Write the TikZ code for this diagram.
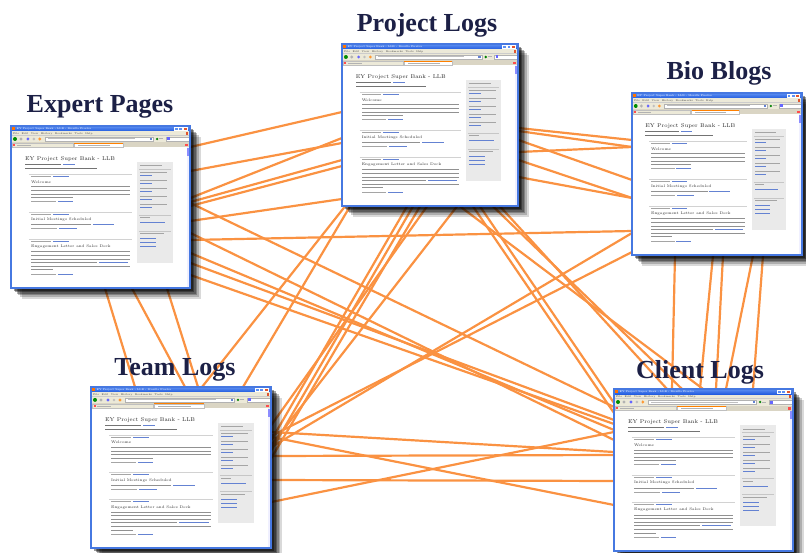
\documentclass[tikz,border=0pt]{standalone}
\usepackage{fontspec}
\newfontfamily\lblfont{Liberation Serif}
\definecolor{lineor}{RGB}{250,146,66}
\definecolor{navy}{RGB}{28,32,70}
\definecolor{tbblue}{RGB}{30,88,222}
\definecolor{tbblue2}{RGB}{95,145,242}
\definecolor{xpgray}{RGB}{236,233,216}
\definecolor{tabgray}{RGB}{218,213,196}
\definecolor{frameblue}{RGB}{70,120,225}
\definecolor{txtgray}{RGB}{165,165,165}
\definecolor{bodygray}{RGB}{145,145,145}
\definecolor{linkblue}{RGB}{100,130,210}
\definecolor{sidegray}{RGB}{234,234,234}
\definecolor{closered}{RGB}{225,85,45}
\tikzset{
  conn/.style={draw=lineor,line width=2.2pt},
  lbl/.style={anchor=base,inner sep=0,text=navy,font=\lblfont\bfseries\fontsize{26}{30}\selectfont},
  win/.style={inner sep=0,anchor=north west,draw=none},
  tiny/.style={anchor=west,inner sep=0}
}
\newcommand\tbar[4]{\fill[#4] (#1,#3-0.5) rectangle (#2,#3+0.5);}
\newcommand\bart[4]{%
\begin{scope}[shift={(#1,#2)},xscale=#3/180,yscale=#4/162]
 \foreach \k/\o in {11/0.15,9/0.2,7.5/0.25,6/0.3,4.5/0.35,3/0.4}{\fill[black,fill opacity=\o] (\k,\k) rectangle (180+\k,162+\k);}
 \fill[white] (0,0) rectangle (180,162);
 \shade[top color=tbblue2,bottom color=tbblue] (0,0) rectangle (180,5.5);
 \fill[orange!90!red] (1.2,1.2) rectangle (4,4.3);
 \node[tiny,text=white,font=\fontsize{2.6}{3}\selectfont] at (5.5,2.8) {EY Project Super Bank - LLB - Mozilla Firefox};
 \foreach \bx in {164,168.5}{\filldraw[fill=tbblue2,draw=white,line width=0.2pt] (\bx,1) rectangle ++(3.8,3.5);}
 \filldraw[fill=closered,draw=white,line width=0.2pt] (173,1) rectangle ++(3.8,3.5);
 \fill[xpgray] (0,5.5) rectangle (180,16.5);
 \node[tiny,text=black!70,font=\fontsize{2.6}{3}\selectfont] at (2,7.6) {File\ \ Edit\ \ View\ \ History\ \ Bookmarks\ \ Tools\ \ Help};
 \fill[closered] (176,6.3) rectangle (178,8.6);
 \draw[gray!40,line width=0.2pt] (0,9.5)--(180,9.5);
 \fill[green!55!black] (4,13) circle (2);
 \fill[gray!60] (10,13) circle (1.6);
 \fill[blue!60] (17,13) circle (1.6);
 \fill[gray!50] (23,13) circle (1.4);
 \fill[orange!80] (29,13) circle (1.6);
 \filldraw[fill=white,draw=gray!60,line width=0.2pt] (34,11) rectangle (143,15);
 \tbar{37}{125}{13}{gray!50}
 \fill[linkblue] (139.5,11.8) rectangle (142,14.2);
 \fill[green!50!black] (147,13) circle (1.3);
 \tbar{149}{153}{13}{gray!60}
 \filldraw[fill=white,draw=gray!60,line width=0.2pt] (156,11) rectangle (179,15);
 \fill[blue!60] (157,11.5) rectangle (160,14.5);
 \fill[tabgray] (0,16.5) rectangle (180,21.5);
 \filldraw[fill=xpgray,draw=gray!50,line width=0.2pt] (1,17) rectangle (62,21.5);
 \fill[red!70] (2.5,18.2) rectangle (4.5,20.2);
 \tbar{6}{20}{19.2}{gray!60}
 \filldraw[fill=white,draw=gray!50,line width=0.2pt] (63,16.8) rectangle (113,21.5);
 \draw[orange,line width=0.6pt] (63,16.9)--(113,16.9);
 \tbar{67}{100}{19.2}{gray!60}
 \fill[red!70] (175,18) rectangle (177.5,20.5);
 \fill[blue!6] (176.5,21.5) rectangle (179.5,161.5);
 \fill[blue!45] (176.7,22) rectangle (179.3,30);
 % main column
 \node[tiny,font=\fontsize{5.5}{6}\selectfont,text=black!85] at (14,33.5) {EY Project Super Bank - LLB};
 \tbar{14}{50}{38.8}{black!55}\tbar{52}{64}{38.8}{linkblue}
 \tbar{14}{86}{42.5}{black!55}
 \draw[gray!35,line width=0.3pt] (18,48)--(122,48);
 \tbar{20}{40}{50.5}{txtgray}\tbar{42}{58}{50.5}{linkblue}
 \node[tiny,font=\fontsize{3.8}{4}\selectfont,text=black!80] at (20,56) {Welcome};
 \foreach \yy in {61,64.6,68.2}{\tbar{20}{120}{\yy}{bodygray}}
 \tbar{20}{62}{71.8}{bodygray}
 \tbar{20}{45}{75.5}{txtgray}\tbar{47}{62}{75.5}{linkblue}
 \draw[gray!35,line width=0.3pt] (18,86)--(122,86);
 \tbar{20}{40}{88.5}{txtgray}\tbar{42}{58}{88.5}{linkblue}
 \node[tiny,font=\fontsize{3.8}{4}\selectfont,text=black!80] at (20,94) {Initial Meetings Scheduled};
 \tbar{20}{80}{99}{bodygray}\tbar{82}{104}{99}{linkblue}
 \tbar{20}{46}{103}{txtgray}\tbar{48}{66}{103}{linkblue}
 \draw[gray!35,line width=0.3pt] (18,113)--(122,113);
 \tbar{20}{40}{115.5}{txtgray}\tbar{42}{58}{115.5}{linkblue}
 \node[tiny,font=\fontsize{3.8}{4}\selectfont,text=black!80] at (20,121) {Engagement Letter and Sales Deck};
 \foreach \yy in {126,129.6,133.2}{\tbar{20}{120}{\yy}{bodygray}}
 \tbar{20}{86}{136.8}{bodygray}\tbar{88}{118}{136.8}{linkblue}
 \tbar{20}{120}{140.4}{bodygray}
 \tbar{20}{42}{144}{bodygray}
 \tbar{20}{45}{148.5}{txtgray}\tbar{47}{62}{148.5}{linkblue}
 % sidebar
 \fill[sidegray] (127,36) rectangle (163,137);
 \tbar{130}{152}{40}{txtgray}
 \draw[gray!45,line width=0.2pt] (129,43)--(161,43);
 \foreach \yy in {47,55,63,71,79}{\tbar{130}{157}{\yy}{txtgray}\tbar{130}{142}{\yy+3}{linkblue}}
 \draw[gray!45,line width=0.2pt] (129,89)--(161,89);
 \tbar{130}{140}{92}{txtgray}
 \tbar{130}{155}{97}{linkblue}
 \draw[gray!45,line width=0.2pt] (129,105)--(161,105);
 \tbar{130}{154}{108}{txtgray}
 \foreach \yy in {113,117,121}{\tbar{130}{146}{\yy}{linkblue}}
 \draw[frameblue,line width=1.1pt] (0,0) rectangle (180,162);
\end{scope}}
\begin{document}
\begin{tikzpicture}[x=1pt,y=-1pt]
\useasboundingbox (0,0) rectangle (806,553);
% window placeholders
\node[win,minimum width=179pt,minimum height=162pt] (E) at (11,126) {};
\node[win,minimum width=176pt,minimum height=162pt] (P) at (342,44) {};
\node[win,minimum width=170pt,minimum height=162pt] (B) at (632,93) {};
\node[win,minimum width=180pt,minimum height=161pt] (T) at (91,387) {};
\node[win,minimum width=179pt,minimum height=162pt] (C) at (614,389) {};
% connectors
% Expert -- Project
\draw[conn] (E.east|-0,147) -- (P.west|-0,112);
\draw[conn] (E.east|-0,171) -- (P.west|-0,143);
\draw[conn] (E.east|-0,198) -- (P.west|-0,138);
\draw[conn] (E.east|-0,202) -- (P.west|-0,160);
\draw[conn] (E.east|-0,206) -- (P.west|-0,166);
\draw[conn] (E.east|-0,221) -- (P.west|-0,199);
% Expert -- Bio
\draw[conn] (E.east|-0,240) -- (B.west|-0,231);
% Expert -- Client
\draw[conn] (E.east|-0,203) -- (C.west|-0,407);
\draw[conn] (E.east|-0,233) -- (C.west|-0,440);
\draw[conn] (E.east|-0,253) -- (C.west|-0,430);
\draw[conn] (E.east|-0,263) -- (C.west|-0,420);
\draw[conn] (E.east|-0,275) -- (C.west|-0,424);
% Expert -- Team
\draw[conn] (E.south-|105,0) -- (T.north-|135,0);
\draw[conn] (E.south-|132,0) -- (T.north-|185,0);
\draw[conn] (E.south-|167,0) -- (T.north-|198,0);
% Project -- Team
\draw[conn] (P.south-|345,0) -- (T.north-|202,0);
\draw[conn] (P.south-|350,0) -- (T.north-|243,0);
\draw[conn] (P.south-|407,0) -- (T.east|-0,440);
\draw[conn] (P.south-|413,0) -- (T.east|-0,450);
\draw[conn] (P.south-|420,0) -- (T.east|-0,458);
\draw[conn] (P.south-|427,0) -- (T.east|-0,425);
\draw[conn] (P.south-|457,0) -- (T.east|-0,445);
% Project -- Client
\draw[conn] (P.south-|473,0) -- (C.west|-0,413);
\draw[conn] (P.south-|480,0) -- (C.west|-0,403);
\draw[conn] (P.south-|460,0) -- (C.north-|703,0);
\draw[conn] (P.south-|500,0) -- (C.north-|667,0);
\draw[conn] (P.south-|493,0) -- (C.north-|682,0);
% Project -- Bio
\draw[conn] (P.east|-0,128) -- (B.west|-0,140);
\draw[conn] (P.east|-0,131) -- (B.west|-0,147);
\draw[conn] (P.east|-0,140) -- (B.west|-0,180);
\draw[conn] (P.east|-0,152) -- (B.west|-0,147);
\draw[conn] (P.east|-0,160) -- (B.west|-0,198);
\draw[conn] (P.east|-0,177) -- (B.west|-0,198);
% Bio -- Client
\draw[conn] (B.south-|675,0) -- (C.north-|672,0);
\draw[conn] (B.south-|713,0) -- (C.north-|700,0);
\draw[conn] (B.south-|723,0) -- (C.north-|716,0);
\draw[conn] (B.south-|753,0) -- (C.north-|726,0);
\draw[conn] (B.south-|763,0) -- (C.north-|753,0);
% Bio -- Team
\draw[conn] (B.west|-0,233) -- (T.east|-0,447);
\draw[conn] (B.west|-0,252) -- (T.east|-0,436);
% Team -- Client
\draw[conn] (T.east|-0,432) -- (C.west|-0,452);
\draw[conn] (T.east|-0,437) -- (C.west|-0,505);
\draw[conn] (T.east|-0,456) -- (C.west|-0,455);
\draw[conn] (T.east|-0,480) -- (C.west|-0,481);
\draw[conn] (T.east|-0,502) -- (C.west|-0,432);
% windows
\bart{11}{126}{179}{162}
\bart{342}{44}{176}{162}
\bart{632}{93}{170}{162}
\bart{91}{387}{180}{161}
\bart{614}{389}{179}{162}
% labels
\node[lbl] (lP) at (427,32) {Project Logs};
\node[lbl] (lE) at (100,113) {Expert Pages};
\node[lbl] (lB) at (719,80) {Bio Blogs};
\node[lbl] (lT) at (175,375) {Team Logs};
\node[lbl] (lC) at (700,378) {Client Logs};
\end{tikzpicture}
\end{document}
